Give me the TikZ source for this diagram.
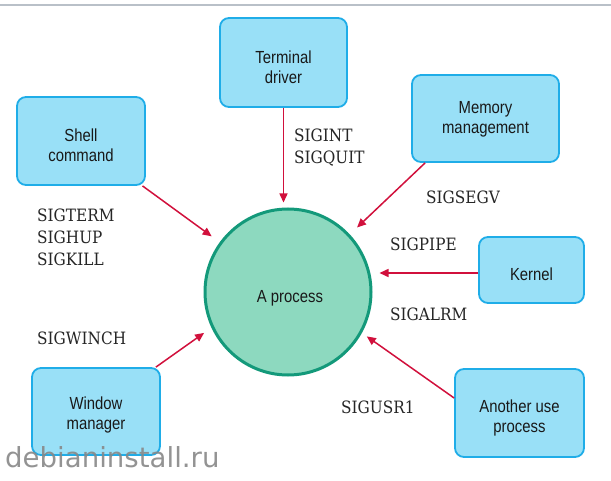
\documentclass[tikz,border=0pt]{standalone}
\usepackage{fontspec}
\setmainfont{Liberation Sans}[FakeStretch=0.85]
\newfontfamily\labelfont{DejaVu Serif Condensed}
\newfontfamily\markfont{DejaVu Sans}
\usetikzlibrary{arrows.meta}

\definecolor{boxfill}{HTML}{99E0F7}
\definecolor{boxline}{HTML}{1FADE8}
\definecolor{procfill}{HTML}{8DD9BF}
\definecolor{procline}{HTML}{13997A}
\definecolor{sigred}{HTML}{D1103C}
\definecolor{rulegray}{HTML}{B9C0C8}
\definecolor{markgray}{HTML}{888888}

\begin{document}
\begin{tikzpicture}[x=1pt,y=-1pt,
  srcbox/.style={draw=boxline, fill=boxfill, line width=1.8pt,
    rounded corners=9pt, inner sep=0pt},
  boxtext/.style={align=center, inner sep=0pt, text=black!90,
    font=\fontsize{17.5}{20}\selectfont},
  procnode/.style={circle, draw=procline, fill=procfill, line width=3pt,
    minimum size=166pt, inner sep=0pt},
  sig/.style={draw=sigred, line width=1.5pt,
    -{Triangle[length=9pt,width=8pt]}},
  siglabel/.style={anchor=north west, inner sep=0pt, align=left,
    text=black!85, font=\labelfont\fontsize{17}{22}\selectfont}
]
\useasboundingbox (0,0) rectangle (611,481);
\fill[white] (0,0) rectangle (611,481);
\draw[rulegray, line width=1.3pt] (0,5) -- (611,5);

% the receiving process
\node[procnode] (proc) at (288,292) {};
\node[boxtext] (proctext) at (290,298) {A process};

% signal sources
\node[srcbox, minimum width=127pt, minimum height=89pt] (term)  at (283.5,62.5) {};
\node[srcbox, minimum width=128pt, minimum height=88pt] (shell) at (81,141) {};
\node[srcbox, minimum width=147pt, minimum height=87pt] (mem)   at (485.5,118.5) {};
\node[srcbox, minimum width=105pt, minimum height=66pt] (kern)  at (531.5,270) {};
\node[srcbox, minimum width=129pt, minimum height=88pt] (other) at (519.5,413) {};
\node[srcbox, minimum width=128pt, minimum height=87pt] (win)   at (96,411.5) {};

\node[boxtext] (termtext)  at ([yshift=-5pt]term.center)  {Terminal\\driver};
\node[boxtext] (shelltext) at ([yshift=-4pt]shell.center) {Shell\\command};
\node[boxtext] (memtext)   at ([yshift=-1pt]mem.center)   {Memory\\management};
\node[boxtext] (kerntext)  at ([yshift=-4pt]kern.center)  {Kernel};
\node[boxtext] (othertext) at ([yshift=-5pt]other.center) {Another use\\process};
\node[boxtext] (wintext)   at ([yshift=-3pt]win.center)   {Window\\manager};

% signals
\draw[sig, shorten >=5pt] (term.south) -- (term.south |- proc.north);
\draw[sig, shorten >=10pt] (shell) -- (proc);
\draw[sig, shorten >=10pt] ([xshift=14pt]mem.south west) -- (proc.43);
\draw[sig, shorten >=7pt] ([yshift=-3pt]kern.west) -- ([yshift=-3pt]kern.west -| proc.east);
\draw[sig, shorten >=6pt] ([yshift=15pt]other.west) -- (proc.-29);
\draw[sig, shorten >=9pt] ([xshift=-5pt]win.north east) -- (proc.205);

% signal names
\node[siglabel] (lint)  at (294,129) {SIGINT\\SIGQUIT};
\node[siglabel] (lsegv) at (426,191) {SIGSEGV};
\node[siglabel] (lterm) at (37,209)  {SIGTERM\\SIGHUP\\SIGKILL};
\node[siglabel] (lpipe) at (390,238) {SIGPIPE};
\node[siglabel] (lalrm) at (390,308) {SIGALRM};
\node[siglabel] (lwin)  at (37,332)  {SIGWINCH};
\node[siglabel] (lusr)  at (341,401) {SIGUSR1};

% site mark
\node[anchor=base west, inner sep=0pt, text=markgray, text opacity=0.9,
  font=\markfont\fontsize{27.6}{28}\selectfont] (site) at (5,467) {debianinstall.ru};
\end{tikzpicture}
\end{document}
